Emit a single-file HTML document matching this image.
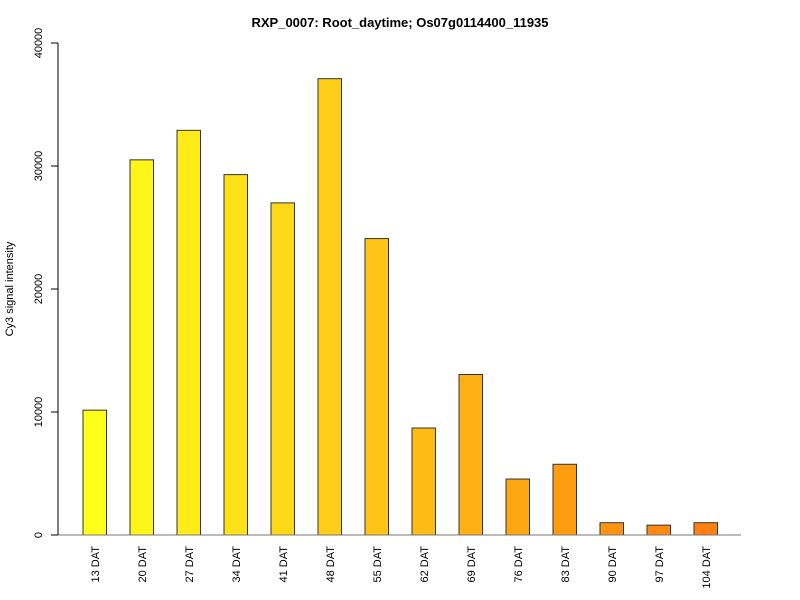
<!DOCTYPE html>
<html><head><meta charset="utf-8"><style>body{margin:0;background:#fff}svg{display:block;font-family:"Liberation Sans",Arial,sans-serif}</style></head>
<body>
<svg id="chart" width="800" height="600" xmlns="http://www.w3.org/2000/svg">
<text x="400" y="27" text-anchor="middle" font-size="13" font-weight="bold">RXP_0007: Root_daytime; Os07g0114400_11935</text>
<text transform="translate(13,289) rotate(-90)" text-anchor="middle" font-size="11">Cy3 signal intensity</text>
<g id="bars"></g>
<g id="axes"></g>
</svg>
<script>
const categories = ["13 DAT","20 DAT","27 DAT","34 DAT","41 DAT","48 DAT","55 DAT","62 DAT","69 DAT","76 DAT","83 DAT","90 DAT","97 DAT","104 DAT"];
const values = [10150, 30500, 32900, 29300, 27000, 37100, 24100, 8700, 13050, 4550, 5750, 1000, 800, 1000];
const yTicks = [0, 10000, 20000, 30000, 40000];
const NS = "http://www.w3.org/2000/svg";
const y0 = 535, y1 = 43, yMax = 40000;
function yScale(v){ return y0 - (v / yMax) * (y0 - y1); }
function xScale(i){ return 83 + i * 47; }
const bw = 23.5;
function mk(tag, attrs, parent){ const e = document.createElementNS(NS, tag); for (const k in attrs) e.setAttribute(k, attrs[k]); parent.appendChild(e); return e; }
const bars = document.getElementById('bars'), axes = document.getElementById('axes');
const n = categories.length;
values.forEach((v, i) => {
  const t = i / (n - 1);
  const g = Math.round(255 - t * (255 - 127));
  const b = Math.round(26 - t * 10);
  const r = mk('rect', {x: xScale(i), y: yScale(v), width: bw, height: y0 - yScale(v), fill: `rgb(255,${g},${b})`, stroke: '#333', 'stroke-width': 1}, bars);
  
  
  const cx = xScale(i) + bw / 2;
  const tx = mk('text', {transform: `translate(${cx + 4},546) rotate(-90)`, 'text-anchor': 'end', 'font-size': 11}, axes);
  tx.textContent = categories[i];
  
  
});
const xl = mk('line', {x1: 58, x2: 741, y1: y0, y2: y0, stroke: '#777', 'stroke-width': 1}, axes);


const yl = mk('line', {x1: 58, x2: 58, y1: yScale(yTicks[0]), y2: yScale(yTicks[yTicks.length - 1]), stroke: '#000', 'stroke-width': 1}, axes);


yTicks.forEach(v => {
  const y = yScale(v);
  const tk = mk('line', {x1: 51, x2: 58, y1: y, y2: y, stroke: '#000', 'stroke-width': 1}, axes);
  
  
  const tl = mk('text', {transform: `translate(42,${y}) rotate(-90)`, 'text-anchor': 'middle', 'font-size': 11}, axes);
  tl.textContent = v;
  
  
});
</script>
</body></html>
